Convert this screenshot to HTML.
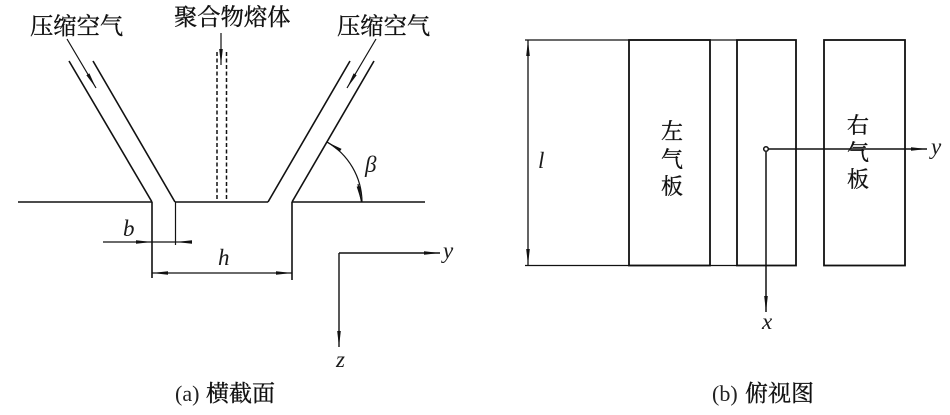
<!DOCTYPE html>
<html>
<head>
<meta charset="utf-8">
<style>
html,body{margin:0;padding:0;background:#fff;width:950px;height:415px;overflow:hidden}
svg{display:block}
.cn{font-family:"Liberation Serif","Noto Serif CJK SC",serif;fill:#111;stroke:#111;stroke-width:.35}
.en{font-family:"Liberation Serif",serif;fill:#222}
.it{font-family:"Liberation Serif",serif;font-style:italic;fill:#1a1a1a}
line,path.l,rect{stroke:#111;fill:none}
</style>
</head>
<body>
<svg width="950" height="415" viewBox="0 0 950 415" xmlns="http://www.w3.org/2000/svg">
<defs>
<marker id="a" viewBox="0 0 16 6" refX="16" refY="3" markerWidth="16" markerHeight="6" markerUnits="userSpaceOnUse" orient="auto"><path d="M0 1.2L16 3L0 4.8Z" fill="#111"/></marker>
</defs>
<g stroke-width="1.6">
<line x1="18" y1="202" x2="152" y2="202"/>
<line x1="175" y1="202" x2="268" y2="202"/>
<line x1="292" y1="202" x2="425" y2="202"/>
<line x1="152" y1="202" x2="69" y2="61"/>
<line x1="175" y1="202" x2="93" y2="61"/>
<line x1="268" y1="202" x2="350" y2="61"/>
<line x1="292" y1="202" x2="374" y2="61"/>
<line x1="152" y1="202" x2="152" y2="278"/>
<line x1="292" y1="202" x2="292" y2="280"/>
</g>
<g stroke-width="1.2">
<line x1="175.500" y1="202" x2="175.500" y2="245"/>
<line x1="103" y1="242" x2="152" y2="242" marker-end="url(#a)"/>
<line x1="152" y1="242" x2="176" y2="242"/>
<line x1="190" y1="242" x2="176" y2="242" marker-end="url(#a)"/>
<line x1="222" y1="273" x2="152" y2="273" marker-end="url(#a)"/>
<line x1="222" y1="273" x2="292" y2="273" marker-end="url(#a)"/>
<line x1="67" y1="39" x2="96" y2="88" marker-end="url(#a)"/>
<line x1="376" y1="39" x2="347" y2="88" marker-end="url(#a)"/>
<line x1="221" y1="33" x2="221" y2="65" marker-end="url(#a)"/>
<path class="l" d="M362 202A70 70 0 0 0 327 142"/>
<line x1="358" y1="184" x2="361.500" y2="202" marker-end="url(#a)"/>
<line x1="340" y1="150" x2="327" y2="142" marker-end="url(#a)"/>
</g>
<g stroke-width="1.5" stroke-dasharray="4 2.500">
<line x1="217" y1="52" x2="217" y2="202"/>
<line x1="226.500" y1="52" x2="226.500" y2="202"/>
</g>
<g stroke-width="1.4">
<line x1="339" y1="253" x2="440" y2="253" marker-end="url(#a)"/>
<line x1="339" y1="253" x2="339" y2="347" marker-end="url(#a)"/>
</g>
<g stroke-width="1.300">
<line x1="525" y1="40" x2="737" y2="40"/>
<line x1="525" y1="265.500" x2="737" y2="265.500"/>
<line x1="528" y1="150" x2="528" y2="40" marker-end="url(#a)"/>
<line x1="528" y1="150" x2="528" y2="265" marker-end="url(#a)"/>
</g>
<g stroke-width="1.800">
<rect x="629" y="40" width="81" height="225.500"/>
<rect x="737" y="40" width="59" height="225.500"/>
<rect x="824" y="40" width="81" height="225.500"/>
</g>
<g stroke-width="1.500">
<line x1="768" y1="149" x2="927" y2="149" marker-end="url(#a)"/>
<line x1="766" y1="152" x2="766" y2="312" marker-end="url(#a)"/>
<circle cx="766" cy="149" r="2.300" stroke="#111" fill="#fff"/>
</g>
<g font-size="23.300">
<text class="cn" x="30" y="34">压缩空气</text>
<text class="cn" x="174" y="25">聚合物熔体</text>
<text class="cn" x="337" y="34">压缩空气</text>
</g>
<g font-size="22" text-anchor="middle">
<text class="cn" x="672" y="139">左</text>
<text class="cn" x="672" y="167">气</text>
<text class="cn" x="672" y="194">板</text>
<text class="cn" x="858" y="133">右</text>
<text class="cn" x="858" y="160">气</text>
<text class="cn" x="858" y="187">板</text>
</g>
<text class="en" x="175" y="401" font-size="22">(a)</text>
<text class="cn" x="206" y="401" font-size="23">横截面</text>
<text class="en" x="712" y="401" font-size="22">(b)</text>
<text class="cn" x="745" y="401" font-size="23">俯视图</text>
<g font-size="23">
<text class="it" x="365" y="172">β</text>
<text class="it" x="123" y="236">b</text>
<text class="it" x="218" y="265">h</text>
<text class="it" x="443" y="258">y</text>
<text class="it" x="336" y="367">z</text>
<text class="it" x="538" y="168">l</text>
<text class="it" x="762" y="329">x</text>
<text class="it" x="931" y="154">y</text>
</g>
</svg>
</body>
</html>
